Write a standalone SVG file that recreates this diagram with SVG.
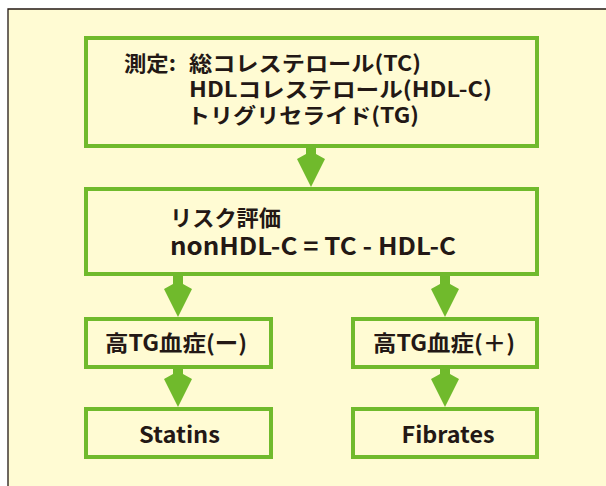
<svg xmlns="http://www.w3.org/2000/svg" width="606" height="486" viewBox="0 0 606 486">
<style>
.box{fill:none;stroke:#70ba2c;stroke-width:4}
.arr{fill:#70ba2c}
.t{font-family:"Noto Sans CJK JP","Noto Sans",sans-serif;font-weight:700;fill:#231815}
.c{text-anchor:middle}
</style>
<rect x="0" y="0" width="606" height="486" fill="#ffffff"/>
<rect x="8" y="9" width="600" height="480" fill="#fffbd3"/>
<path d="M8,486 V9 H606" fill="none" stroke="#231815" stroke-width="1.3"/>
<g id="connectors">
<path class="arr" d="M306,146 V154 L297,159 L311,187 L325,159 L316,154 V146 Z"/>
<path class="arr" d="M173,274 V284 L164,289 L178,317 L192,289 L183,284 V274 Z"/>
<path class="arr" d="M440,274 V284 L431,289 L445,317 L459,289 L450,284 V274 Z"/>
<path class="arr" d="M173,367 V374 L164,379 L178,407 L192,379 L183,374 V367 Z"/>
<path class="arr" d="M440,367 V374 L431,379 L445,407 L459,379 L450,374 V367 Z"/>
</g>
<g id="measure">
<rect class="box" x="86" y="38" width="451" height="108"/>
<text class="t" x="124" y="71" font-size="21" textLength="52" lengthAdjust="spacingAndGlyphs">測定:</text>
<text class="t" x="189" y="71" font-size="21" textLength="232" lengthAdjust="spacingAndGlyphs">総コレステロール(TC)</text>
<text class="t" x="189" y="97" font-size="21" textLength="303" lengthAdjust="spacingAndGlyphs">HDLコレステロール(HDL-C)</text>
<text class="t" x="187" y="123" font-size="21" textLength="232" lengthAdjust="spacingAndGlyphs">トリグリセライド(TG)</text>
</g>
<g id="risk">
<rect class="box" x="86" y="189" width="451" height="85"/>
<text class="t" x="170" y="226" font-size="22" textLength="111" lengthAdjust="spacingAndGlyphs">リスク評価</text>
<text class="t" x="170" y="255" font-size="24" textLength="286" lengthAdjust="spacingAndGlyphs">nonHDL-C = TC - HDL-C</text>
</g>
<g id="hightg-neg">
<rect class="box" x="86" y="319" width="185" height="48"/>
<text class="t c" x="176" y="351" font-size="22" textLength="142" lengthAdjust="spacingAndGlyphs">高TG血症(ー)</text>
</g>
<g id="hightg-pos">
<rect class="box" x="353" y="319" width="184" height="48"/>
<text class="t c" x="444" y="351" font-size="22" textLength="142" lengthAdjust="spacingAndGlyphs">高TG血症(＋)</text>
</g>
<g id="statins">
<rect class="box" x="86" y="409" width="185" height="48"/>
<text class="t c" x="179.5" y="443" font-size="22" textLength="81" lengthAdjust="spacingAndGlyphs">Statins</text>
</g>
<g id="fibrates">
<rect class="box" x="353" y="409" width="184" height="48"/>
<text class="t c" x="448" y="443" font-size="22" textLength="93" lengthAdjust="spacingAndGlyphs">Fibrates</text>
</g>
</svg>
